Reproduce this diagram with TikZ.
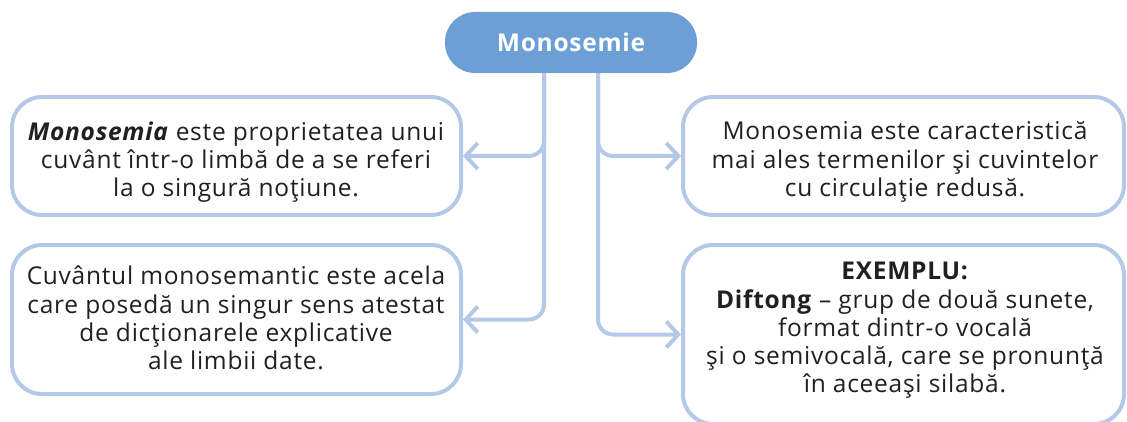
\documentclass[tikz,border=0pt]{standalone}
\usepackage{fontspec}
\setmainfont{Open Sans}[LetterSpace=3]
\usetikzlibrary{arrows.meta}
\definecolor{lineblue}{HTML}{B4C8E8}
\definecolor{pillblue}{HTML}{6C9FD5}
\definecolor{txtcol}{HTML}{231F20}
\begin{document}
\begin{tikzpicture}[x=1pt,y=-1pt,
  box/.style={draw=lineblue, line width=4pt, rounded corners=30pt, inner sep=0pt},
  txt/.style={text=txtcol, align=center, font=\fontsize{24.5}{28.3}\selectfont, inner sep=0pt},
  conn/.style={draw=lineblue, line width=4pt, rounded corners=15pt,
    -{Straight Barb[length=12pt,width=26pt]}},
  pill/.style={fill=pillblue, rounded corners=30pt, inner sep=0pt, text=white,
    font=\fontsize{24.5}{28}\selectfont\bfseries}]
\path[use as bounding box] (0,0) rectangle (1127,422);
\clip (0,0) rectangle (1127,422);
% boxes
\node[pill, minimum width=252pt, minimum height=61pt] (top) at (571,42.5) {Monosemie};
\node[box, minimum width=449pt, minimum height=118pt] (tl) at (236.5,156) {};
\node[box, minimum width=449pt, minimum height=149pt] (bl) at (236.5,319.5) {};
\node[box, minimum width=441pt, minimum height=118pt] (tr) at (903.5,156) {};
\node[box, minimum width=441pt, minimum height=179pt] (br) at (903.5,334.5) {};
% texts
\node[txt] (t1) at (236,162) {\textbf{\textit{Monosemia}} este proprietatea unui\\cuvânt într-o limbă de a se referi\\la o singură noţiune.};
\node[txt] (t2) at (236,318) {Cuvântul monosemantic este acela\\care posedă un singur sens atestat\\de dicţionarele explicative\\ale limbii date.};
\node[txt] (t3) at (905,162) {Monosemia este caracteristică\\mai ales termenilor şi cuvintelor\\cu circulaţie redusă.};
\node[txt] (t4) at (905,330.5) {\textbf{EXEMPLU:}\\\textbf{Diftong} – grup de două sunete,\\format dintr-o vocală\\şi o semivocală, care se pronunţă\\în aceeaşi silabă.};
% connectors
\draw[conn] ([xshift=-27pt]top.south) |- (tl.east);
\draw[conn] ([xshift=-27pt]top.south) |- (bl.east);
\draw[conn] ([xshift=27pt]top.south) |- (tr.west);
\draw[conn] ([xshift=27pt]top.south) |- (br.west);
\end{tikzpicture}
\end{document}
